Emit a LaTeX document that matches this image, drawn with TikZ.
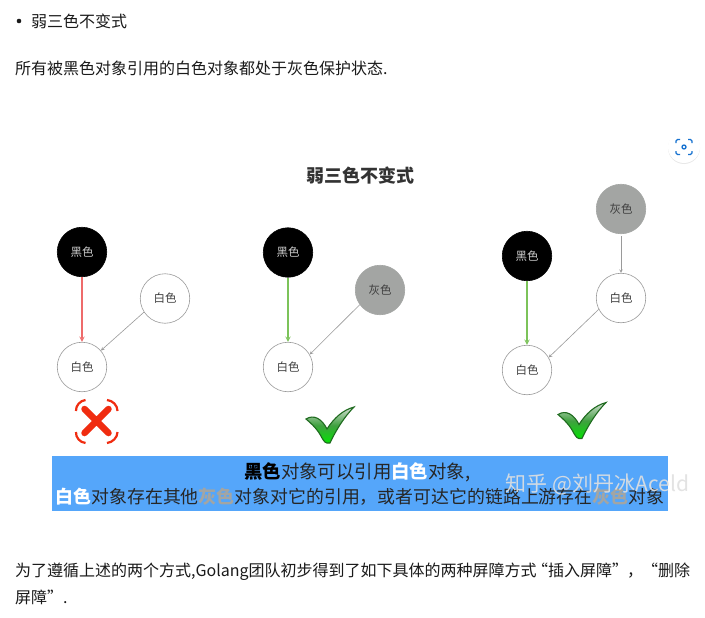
\documentclass[tikz,border=0pt]{standalone}
\usepackage{fontspec}
\setmainfont{Noto Sans CJK SC}
\usetikzlibrary{shadows}
\definecolor{bannerblue}{HTML}{55A6FA}
\definecolor{midgray}{HTML}{A3A5A3}
\definecolor{edgegray}{HTML}{9A9A9A}
\definecolor{okgreen}{HTML}{7CC35A}
\definecolor{badred}{HTML}{EE6B6B}
\definecolor{crossred}{HTML}{F02C10}
\definecolor{iconblue}{HTML}{1772D0}
\definecolor{bodytext}{HTML}{1A1A1A}
\definecolor{checkedge}{HTML}{1F6B1F}
\definecolor{checktop}{HTML}{D5DDD5}
\definecolor{checkmid}{HTML}{3FA03F}
\definecolor{checkend}{HTML}{00E600}
\newcommand{\whitecolor}[1]{\textcolor{white}{\textbf{#1}}}
\newcommand{\graycolor}[1]{\textcolor{midgray}{\textbf{#1}}}
\tikzset{
  objnode/.style={circle,draw=edgegray,line width=0.6pt,minimum size=49.5pt,inner sep=0pt,
    font=\fontsize{11.5}{11.5}\selectfont},
  blackobj/.style={objnode,fill=black,draw=black,text=white!80!black},
  grayobj/.style={objnode,fill=midgray,draw=midgray,text=black!75},
  whiteobj/.style={objnode,fill=white,text=black!75},
  bodyline/.style={anchor=west,inner sep=0pt,text=bodytext,font=\fontsize{16}{16}\selectfont},
  refedge/.style={-stealth,edgegray,line width=0.6pt},
  okedge/.style={-stealth,okgreen,line width=1.4pt},
  badedge/.style={-stealth,badred,line width=1.4pt},
  checkmark/.pic={
    \draw[draw=checkedge,line width=1.1pt,top color=checktop,bottom color=checkend,middle color=checkmid]
      (-24,-6) .. controls (-16,-11) and (-8,-6) .. (-3,4)
      .. controls (4,-7) and (13,-15) .. (24,-18)
      .. controls (14,-8) and (5,7) .. (0,18)
      .. controls (-5,19) and (-6,16) .. (-8,13)
      .. controls (-12,5) and (-17,0) .. (-24,-6) -- cycle;
  },
}
\begin{document}
\begin{tikzpicture}[x=1pt,y=-1pt,>=stealth]
  \useasboundingbox[fill=white] (0,0) rectangle (705,618);

  % Text above the figure
  \fill[bodytext] (19,21) circle (2.3);
  \node[bodyline] (heading) at (31,21) {弱三色不变式};
  \node[bodyline] (intro) at (15,68) {所有被黑色对象引用的白色对象都处于灰色保护状态.};

  % Figure title
  \node[font=\fontsize{18}{18}\selectfont\bfseries,text=black!80] (title) at (360,176) {弱三色不变式};

  % Left case
  \node[blackobj] (blackA) at (82,252) {黑色};
  \node[whiteobj] (whiteA) at (82,367) {白色};
  \node[whiteobj] (otherA) at (165,298.5) {白色};
  \draw[badedge] (blackA) -- (whiteA);
  \draw[refedge] (otherA.213) -- (whiteA.41);

  % Middle case
  \node[blackobj] (blackB) at (288,252.5) {黑色};
  \node[whiteobj] (whiteB) at (288,367) {白色};
  \node[grayobj] (grayB) at (380,290) {灰色};
  \draw[okedge] (blackB) -- (whiteB);
  \draw[refedge] (grayB.216) -- (whiteB.30);

  % Right case
  \node[blackobj] (blackC) at (527,256) {黑色};
  \node[whiteobj] (whiteC) at (527,370) {白色};
  \node[grayobj] (grayC) at (621,209) {灰色};
  \node[whiteobj] (otherC) at (621,298) {白色};
  \draw[okedge] (blackC) -- (whiteC);
  \draw[refedge,shorten <=2pt] (grayC) -- (otherC);
  \draw[refedge] (otherC.207) -- (whiteC.30);

  % Cross and check marks
  \draw[crossred,line width=6.5pt,line cap=round] (84.5,409) -- (108.5,433) (108.5,409) -- (84.5,433);
  \draw[crossred,line width=2.2pt]
    (76,411) .. controls (75.5,406) and (80,400.5) .. (85.5,400)
    (107,400) .. controls (112.5,400.5) and (117.5,405) .. (117.5,411)
    (117.5,432) .. controls (117.5,437.5) and (112.5,442.5) .. (107,443)
    (85.5,443) .. controls (80,442.5) and (75.5,437.5) .. (76,432);
  \pic at (330,425) {checkmark};
  \pic at (582,420.5) {checkmark};

  % Banner
  \node[anchor=north west,minimum width=616pt,minimum height=55pt,inner sep=0pt,fill=bannerblue] (banner) at (52,456) {};
  \node[anchor=west,font=\fontsize{18.4}{18.4}\selectfont,text=black!85,inner sep=0pt] (lineA) at (244,472)
    {\textcolor{black}{\textbf{黑色}}对象可以引用\whitecolor{白色}对象,};
  \node[font=\fontsize{17.9}{17.9}\selectfont,text=black!85,inner sep=0pt] (lineB) at (360,497)
    {\whitecolor{白色}对象存在其他\graycolor{灰色}对象对它的引用，或者可达它的链路上游存在\graycolor{灰色}对象};

  % Watermark
  \node[font=\fontsize{21}{21}\selectfont,text=white!88!black,opacity=0.9,inner sep=0pt] (mark) at (597.5,484.5) {知乎 @刘丹冰Aceld};

  % Zoom button
  \node[circle,fill=white,minimum size=32pt,inner sep=0pt,drop shadow={opacity=0.18,scale=1.08,shadow xshift=0pt,shadow yshift=-1pt}] (zoombtn) at (684,147) {};
  \draw[iconblue,line width=1.3pt,rounded corners=1.5pt]
    (676,143) -- (676,139.5) -- (680,139.5)
    (688,139.5) -- (692,139.5) -- (692,143)
    (692,151) -- (692,154.5) -- (688,154.5)
    (680,154.5) -- (676,154.5) -- (676,151);
  \draw[iconblue,line width=1.3pt] (684,147) circle (2);

  % Text below the figure
  \node[bodyline] (outroA) at (15,572) {为了遵循上述的两个方式,Golang团队初步得到了如下具体的两种屏障方式\kern-4.5pt“插入屏障”\kern-1pt，\kern-1pt“删除};
  \node[bodyline] (outroB) at (15,597) {屏障”.};
\end{tikzpicture}
\end{document}
